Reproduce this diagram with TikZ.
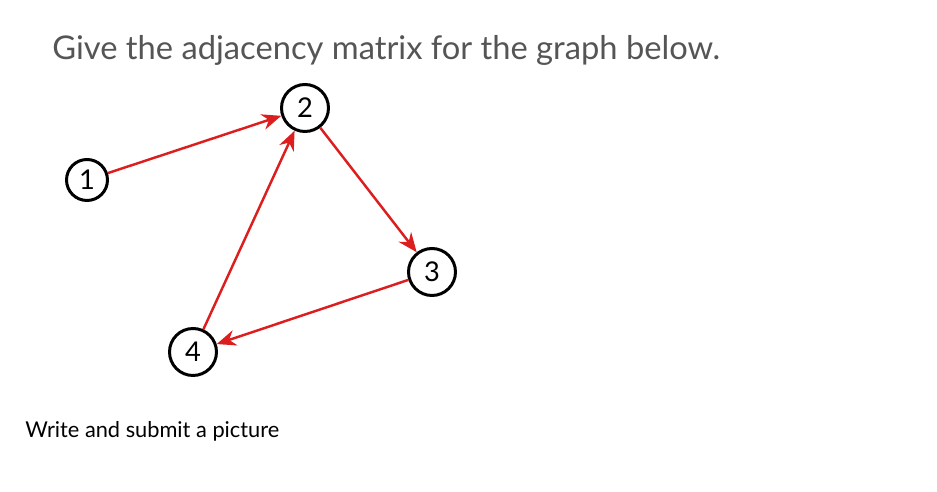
\documentclass[tikz,border=0pt]{standalone}
\usepackage{fontspec}
\setmainfont{Lato}
\newfontfamily\titlefont{Open Sans}
\usetikzlibrary{arrows.meta}
\definecolor{titlegray}{RGB}{85,85,85}
\definecolor{edgered}{RGB}{220,30,30}
\begin{document}
\begin{tikzpicture}[x=0.02cm,y=-0.02cm]
        \useasboundingbox (0,0) rectangle (937,492);
        \begin{scope}[every node/.style={draw,circle,line width=1.7pt,inner sep=0pt,font=\fontsize{15.5}{15.5}\selectfont}]
                \node[minimum size=0.82cm] (1) at (87,180) {1};
                \node[minimum size=0.94cm] (2) at (305,108) {2};
                \node[minimum size=0.94cm] (3) at (432,272) {3};
                \node[minimum size=0.94cm] (4) at (193,352) {4};
        \end{scope}
        \node[anchor=base west, inner sep=0pt, text=titlegray, font=\fontsize{18.6}{18.6}\selectfont] (T) at (52,60) {Give the adjacency matrix for the graph below.};
        \node[anchor=base west, inner sep=0pt, font=\fontsize{12.4}{12.4}\selectfont] (W) at (25,438) {Write and submit a picture};
        \begin{scope}[every path/.style={draw=edgered, line width=1.4pt, -{Stealth[length=11pt,width=9pt]}}]
                \path (1) edge (2);
                \path (2) edge (3);
                \path (3) edge (4);
                \path (4) edge (2);
        \end{scope}
\end{tikzpicture}
\end{document}
